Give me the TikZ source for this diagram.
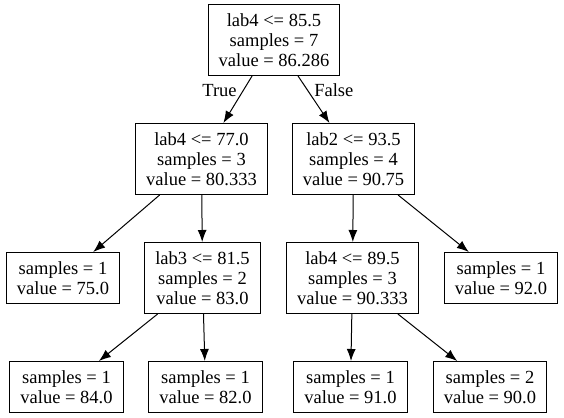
\documentclass[tikz,border=0pt]{standalone}
\usepackage{fontspec}
\setmainfont{Liberation Serif}
\usetikzlibrary{arrows.meta}
\begin{document}
\begin{tikzpicture}[x=1pt, y=-1pt,
  font=\fontsize{18.5}{20}\selectfont,
  split/.style={draw, line width=1pt, align=center, inner xsep=10.5pt, inner ysep=0pt, minimum height=71pt},
  leaf/.style={draw, line width=1pt, align=center, inner xsep=10.5pt, inner ysep=0pt, minimum height=51pt},
  edge/.style={-{Latex[length=12pt, width=9pt]}, line width=1pt}]
\useasboundingbox (0,0) rectangle (564,417);
\node[split] (root) at (274,40) {lab4 <= 85.5\\samples = 7\\value = 86.286};
\node[split] (lab4a) at (201.5,159) {lab4 <= 77.0\\samples = 3\\value = 80.333};
\node[split] (lab2) at (353.5,159) {lab2 <= 93.5\\samples = 4\\value = 90.75};
\node[leaf] (leafa) at (63,278) {samples = 1\\value = 75.0};
\node[split] (lab3) at (202.5,278) {lab3 <= 81.5\\samples = 2\\value = 83.0};
\node[split] (lab4b) at (352.5,278) {lab4 <= 89.5\\samples = 3\\value = 90.333};
\node[leaf] (leafb) at (501,278) {samples = 1\\value = 92.0};
\node[leaf] (leafc) at (66.5,387) {samples = 1\\value = 84.0};
\node[leaf] (leafd) at (205.5,387) {samples = 1\\value = 82.0};
\node[leaf] (leafe) at (350.5,387) {samples = 1\\value = 91.0};
\node[leaf] (leaff) at (490,387) {samples = 2\\value = 90.0};
%%%%%%%%%%%%%
\draw[edge] (root) -- node[pos=0.3, left=3pt] {True} (lab4a);
\draw[edge] (root) -- node[pos=0.3, right=3pt] {False} (lab2);
\draw[edge] (lab4a) -- (leafa);
\draw[edge] (lab4a) -- (lab3);
\draw[edge] (lab2) -- (lab4b);
\draw[edge] (lab2) -- (leafb);
\draw[edge] (lab3) -- (leafc);
\draw[edge] (lab3) -- (leafd);
\draw[edge] (lab4b) -- (leafe);
\draw[edge] (lab4b) -- (leaff);
\end{tikzpicture}
\end{document}
